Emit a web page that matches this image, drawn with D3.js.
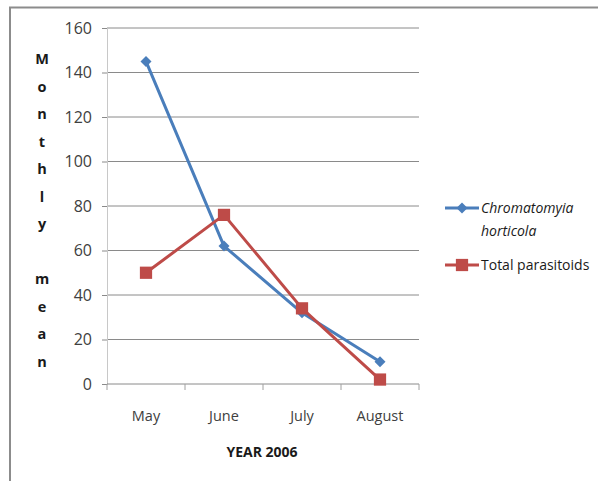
<!DOCTYPE html>
<html>
<head>
<meta charset="utf-8">
<script src="https://cdn.jsdelivr.net/npm/d3@7"></script>
<style>
  body { margin: 0; background: #fff; }
  svg { display: block; font-family: "Open Sans", "Noto Sans", sans-serif; }
</style>
</head>
<body>
<div id="chart"></div>
<script>
const months = ["May", "June", "July", "August"];
const chromatomyia = [145, 62, 32, 10];
const parasitoids = [50, 76, 34, 2];
const yTicks = [0, 20, 40, 60, 80, 100, 120, 140, 160];
const yTitle = ["M", "o", "n", "t", "h", "l", "y", "", "m", "e", "a", "n"];

const W = 598, H = 481;
const plot = {left: 107, right: 419, top: 28, bottom: 384};

const svg = d3.select("#chart").append("svg")
  .attr("width", W)
  .attr("height", H);

// outer frame
svg.append("path")
  .attr("d", `M10,${H + 2} V7.5 H${W + 2}`)
  .attr("fill", "none")
  .attr("stroke", "#8c8c8c")
  .attr("stroke-width", 2);

const x = d3.scaleBand().domain(months).range([plot.left, plot.right]);
const y = d3.scaleLinear().domain([0, 160]).range([plot.bottom, plot.top]);

// gridlines
svg.append("g")
  .selectAll("line")
  .data(yTicks.filter(d => d > 0))
  .enter().append("line")
  .attr("x1", plot.left)
  .attr("x2", plot.right)
  .attr("y1", d => y(d))
  .attr("y2", d => y(d))
  .attr("stroke", "#8a8a8a")
  .attr("stroke-width", 1);

// y axis
const yAxis = svg.append("g")
  .attr("transform", `translate(${plot.left},0)`)
  .call(d3.axisLeft(y).tickValues(yTicks).tickSize(5).tickPadding(10));
yAxis.select(".domain").attr("stroke", "#c8c8c8");
yAxis.selectAll(".tick line").attr("stroke", "#8a8a8a");
yAxis.selectAll("text").attr("font-size", 16).attr("fill", "#404040")
  .attr("font-family", "'Open Sans', sans-serif");

// x axis
const xAxisG = svg.append("g")
  .attr("transform", `translate(0,${plot.bottom})`);
xAxisG.append("line")
  .attr("x1", plot.left).attr("x2", plot.right)
  .attr("stroke", "#8a8a8a");
xAxisG.selectAll(".sep")
  .data(d3.range(months.length + 1))
  .enter().append("line")
  .attr("class", "sep")
  .attr("x1", i => plot.left + i * x.bandwidth())
  .attr("x2", i => plot.left + i * x.bandwidth())
  .attr("y1", 0).attr("y2", 6)
  .attr("stroke", "#a0a0a0");
xAxisG.selectAll(".lbl")
  .data(months)
  .enter().append("text")
  .attr("class", "lbl")
  .attr("x", d => x(d) + x.bandwidth() / 2)
  .attr("y", 37)
  .attr("text-anchor", "middle")
  .attr("font-size", 14.5)
  .attr("fill", "#404040")
  .text(d => d);

// axis titles
svg.append("text")
  .attr("x", 262)
  .attr("y", 457)
  .attr("text-anchor", "middle")
  .attr("font-size", 14)
  .attr("font-weight", "bold")
  .attr("fill", "#1a1a1a")
  .text("YEAR 2006");

svg.append("g").selectAll("text")
  .data(yTitle)
  .enter().append("text")
  .attr("x", 42)
  .attr("y", (d, i) => 64 + i * 27.5)
  .attr("text-anchor", "middle")
  .attr("font-size", 14.5)
  .attr("font-weight", "bold")
  .attr("fill", "#1a1a1a")
  .text(d => d);

const blue = "#4a7ebb", red = "#be4b48";
const line = d3.line()
  .x((d, i) => x(months[i]) + x.bandwidth() / 2)
  .y(d => y(d));

// diamond drawn as a square turned 45 degrees
const diamond = "M0,-5.5L5.5,0L0,5.5L-5.5,0Z";
const square = d3.symbol().type(d3.symbolSquare).size(150)();

function series(vals, color, sym) {
  const g = svg.append("g");
  g.append("path")
    .attr("d", line(vals))
    .attr("fill", "none")
    .attr("stroke", color)
    .attr("stroke-width", 3)
    .attr("stroke-linejoin", "round");
  g.selectAll(".m")
    .data(vals)
    .enter().append("path")
    .attr("class", "m")
    .attr("transform", (d, i) => `translate(${x(months[i]) + x.bandwidth() / 2},${y(d)})`)
    .attr("d", sym)
    .attr("fill", color);
}
series(chromatomyia, blue, diamond);
series(parasitoids, red, square);

// legend
const legend = [
  {name: ["Chromatomyia", "horticola"], color: blue, sym: diamond, y: 208, italic: true},
  {name: ["Total parasitoids"], color: red, sym: square, y: 265, italic: false}
];
const lg = svg.append("g").selectAll("g")
  .data(legend)
  .enter().append("g")
  .attr("transform", d => `translate(0,${d.y})`);
lg.append("line")
  .attr("x1", 445).attr("x2", 479)
  .attr("stroke", d => d.color)
  .attr("stroke-width", 3);
lg.append("path")
  .attr("transform", "translate(462,0)")
  .attr("d", d => d.sym)
  .attr("fill", d => d.color);
lg.append("text")
  .attr("x", 481)
  .attr("y", 5)
  .attr("font-size", 14)
  .attr("fill", "#1a1a1a")
  .attr("font-style", d => d.italic ? "italic" : "normal")
  .selectAll("tspan")
  .data(d => d.name)
  .enter().append("tspan")
  .attr("x", 481)
  .attr("dy", (d, i) => i ? 23 : 0)
  .text(d => d);
</script>
</body>
</html>
